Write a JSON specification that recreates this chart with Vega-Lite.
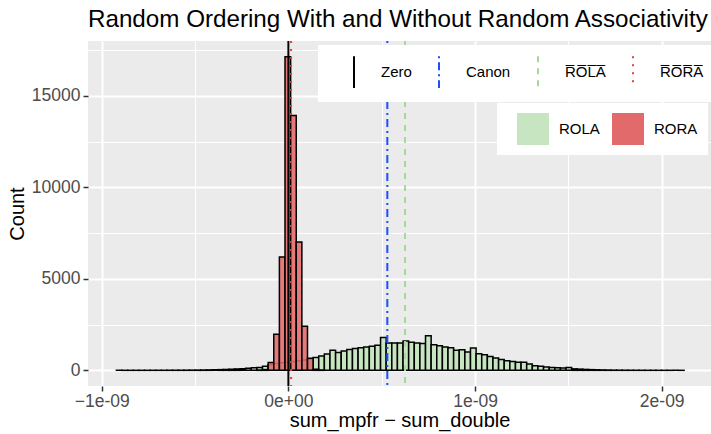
{
  "$schema": "https://vega.github.io/schema/vega-lite/v6.json",
  "autosize": "none",
  "width": 623,
  "height": 345,
  "padding": {"left": 88, "top": 41, "right": 0, "bottom": 48},
  "background": "white",
  "config": {
    "font": "Liberation Sans",
    "view": {"fill": "#EBEBEB", "stroke": null},
    "axis": {
      "domain": false,
      "labelFont": "Liberation Sans",
      "labelColor": "#4D4D4D",
      "labelFontSize": 17.5,
      "tickColor": "#333333",
      "tickSize": 5,
      "tickWidth": 1.5,
      "gridColor": "white",
      "titleFont": "Liberation Sans",
      "titleFontWeight": "normal",
      "titleFontSize": 20,
      "titleColor": "black"
    },
    "legend": {
      "labelFont": "Liberation Sans",
      "labelFontSize": 15,
      "labelColor": "black"
    }
  },
  "title": {
    "text": "Random Ordering With and Without Random Associativity",
    "anchor": "start",
    "frame": "group",
    "fontSize": 24.2,
    "fontWeight": "normal",
    "font": "Liberation Sans",
    "color": "black",
    "offset": 8
  },
  "datasets": {
    "bins": [
      {"g": "ROLA", "lo": -0.9214, "hi": -0.89129, "n": 1},
      {"g": "ROLA", "lo": -0.89129, "hi": -0.86118, "n": 1},
      {"g": "ROLA", "lo": -0.86118, "hi": -0.83107, "n": 1},
      {"g": "ROLA", "lo": -0.83107, "hi": -0.80096, "n": 1},
      {"g": "ROLA", "lo": -0.80096, "hi": -0.77085, "n": 2},
      {"g": "ROLA", "lo": -0.77085, "hi": -0.74074, "n": 2},
      {"g": "ROLA", "lo": -0.74074, "hi": -0.71063, "n": 3},
      {"g": "ROLA", "lo": -0.71063, "hi": -0.68052, "n": 3},
      {"g": "ROLA", "lo": -0.68052, "hi": -0.65041, "n": 4},
      {"g": "ROLA", "lo": -0.65041, "hi": -0.6203, "n": 5},
      {"g": "ROLA", "lo": -0.6203, "hi": -0.59019, "n": 6},
      {"g": "ROLA", "lo": -0.59019, "hi": -0.56008, "n": 7},
      {"g": "ROLA", "lo": -0.56008, "hi": -0.52997, "n": 9},
      {"g": "ROLA", "lo": -0.52997, "hi": -0.49986, "n": 11},
      {"g": "ROLA", "lo": -0.49986, "hi": -0.46975, "n": 14},
      {"g": "ROLA", "lo": -0.46975, "hi": -0.43964, "n": 18},
      {"g": "ROLA", "lo": -0.43964, "hi": -0.40953, "n": 24},
      {"g": "ROLA", "lo": -0.40953, "hi": -0.37942, "n": 30},
      {"g": "ROLA", "lo": -0.37942, "hi": -0.34931, "n": 38},
      {"g": "ROLA", "lo": -0.34931, "hi": -0.3192, "n": 48},
      {"g": "ROLA", "lo": -0.3192, "hi": -0.28909, "n": 60},
      {"g": "ROLA", "lo": -0.28909, "hi": -0.25898, "n": 75},
      {"g": "ROLA", "lo": -0.25898, "hi": -0.22887, "n": 92},
      {"g": "ROLA", "lo": -0.22887, "hi": -0.19876, "n": 112},
      {"g": "ROLA", "lo": -0.19876, "hi": -0.16865, "n": 135},
      {"g": "ROLA", "lo": -0.16865, "hi": -0.13854, "n": 160},
      {"g": "ROLA", "lo": -0.13854, "hi": -0.10843, "n": 220},
      {"g": "ROLA", "lo": -0.10843, "hi": -0.07832, "n": 300},
      {"g": "ROLA", "lo": -0.07832, "hi": -0.04821, "n": 370},
      {"g": "ROLA", "lo": -0.04821, "hi": -0.0181, "n": 420},
      {"g": "ROLA", "lo": -0.0181, "hi": 0.01201, "n": 450},
      {"g": "ROLA", "lo": 0.01201, "hi": 0.04212, "n": 480},
      {"g": "ROLA", "lo": 0.04212, "hi": 0.07223, "n": 520},
      {"g": "ROLA", "lo": 0.07223, "hi": 0.10234, "n": 560},
      {"g": "ROLA", "lo": 0.10234, "hi": 0.13245, "n": 620},
      {"g": "ROLA", "lo": 0.13245, "hi": 0.16256, "n": 700},
      {"g": "ROLA", "lo": 0.16256, "hi": 0.19267, "n": 790},
      {"g": "ROLA", "lo": 0.19267, "hi": 0.22278, "n": 890},
      {"g": "ROLA", "lo": 0.22278, "hi": 0.25289, "n": 1100},
      {"g": "ROLA", "lo": 0.25289, "hi": 0.283, "n": 980},
      {"g": "ROLA", "lo": 0.283, "hi": 0.31311, "n": 1060},
      {"g": "ROLA", "lo": 0.31311, "hi": 0.34322, "n": 1140},
      {"g": "ROLA", "lo": 0.34322, "hi": 0.37333, "n": 1190},
      {"g": "ROLA", "lo": 0.37333, "hi": 0.40344, "n": 1240},
      {"g": "ROLA", "lo": 0.40344, "hi": 0.43355, "n": 1280},
      {"g": "ROLA", "lo": 0.43355, "hi": 0.46366, "n": 1320},
      {"g": "ROLA", "lo": 0.46366, "hi": 0.49377, "n": 1370},
      {"g": "ROLA", "lo": 0.49377, "hi": 0.52388, "n": 1800},
      {"g": "ROLA", "lo": 0.52388, "hi": 0.55399, "n": 1500},
      {"g": "ROLA", "lo": 0.55399, "hi": 0.5841, "n": 1490},
      {"g": "ROLA", "lo": 0.5841, "hi": 0.61421, "n": 1500},
      {"g": "ROLA", "lo": 0.61421, "hi": 0.64432, "n": 1600},
      {"g": "ROLA", "lo": 0.64432, "hi": 0.67443, "n": 1540},
      {"g": "ROLA", "lo": 0.67443, "hi": 0.70454, "n": 1500},
      {"g": "ROLA", "lo": 0.70454, "hi": 0.73465, "n": 1460},
      {"g": "ROLA", "lo": 0.73465, "hi": 0.76476, "n": 1890},
      {"g": "ROLA", "lo": 0.76476, "hi": 0.79487, "n": 1400},
      {"g": "ROLA", "lo": 0.79487, "hi": 0.82498, "n": 1350},
      {"g": "ROLA", "lo": 0.82498, "hi": 0.85509, "n": 1280},
      {"g": "ROLA", "lo": 0.85509, "hi": 0.8852, "n": 1240},
      {"g": "ROLA", "lo": 0.8852, "hi": 0.91531, "n": 1100},
      {"g": "ROLA", "lo": 0.91531, "hi": 0.94542, "n": 1130},
      {"g": "ROLA", "lo": 0.94542, "hi": 0.97553, "n": 1000},
      {"g": "ROLA", "lo": 0.97553, "hi": 1.00564, "n": 1220},
      {"g": "ROLA", "lo": 1.00564, "hi": 1.03575, "n": 910},
      {"g": "ROLA", "lo": 1.03575, "hi": 1.06586, "n": 850},
      {"g": "ROLA", "lo": 1.06586, "hi": 1.09597, "n": 750},
      {"g": "ROLA", "lo": 1.09597, "hi": 1.12608, "n": 680},
      {"g": "ROLA", "lo": 1.12608, "hi": 1.15619, "n": 595},
      {"g": "ROLA", "lo": 1.15619, "hi": 1.1863, "n": 530},
      {"g": "ROLA", "lo": 1.1863, "hi": 1.21641, "n": 485},
      {"g": "ROLA", "lo": 1.21641, "hi": 1.24652, "n": 440},
      {"g": "ROLA", "lo": 1.24652, "hi": 1.27663, "n": 445},
      {"g": "ROLA", "lo": 1.27663, "hi": 1.30674, "n": 340},
      {"g": "ROLA", "lo": 1.30674, "hi": 1.33685, "n": 250},
      {"g": "ROLA", "lo": 1.33685, "hi": 1.36696, "n": 225},
      {"g": "ROLA", "lo": 1.36696, "hi": 1.39707, "n": 185},
      {"g": "ROLA", "lo": 1.39707, "hi": 1.42718, "n": 150},
      {"g": "ROLA", "lo": 1.42718, "hi": 1.45729, "n": 140},
      {"g": "ROLA", "lo": 1.45729, "hi": 1.4874, "n": 125},
      {"g": "ROLA", "lo": 1.4874, "hi": 1.51751, "n": 150},
      {"g": "ROLA", "lo": 1.51751, "hi": 1.54762, "n": 80},
      {"g": "ROLA", "lo": 1.54762, "hi": 1.57773, "n": 65},
      {"g": "ROLA", "lo": 1.57773, "hi": 1.60784, "n": 50},
      {"g": "ROLA", "lo": 1.60784, "hi": 1.63795, "n": 38},
      {"g": "ROLA", "lo": 1.63795, "hi": 1.66806, "n": 30},
      {"g": "ROLA", "lo": 1.66806, "hi": 1.69817, "n": 22},
      {"g": "ROLA", "lo": 1.69817, "hi": 1.72828, "n": 16},
      {"g": "ROLA", "lo": 1.72828, "hi": 1.75839, "n": 12},
      {"g": "ROLA", "lo": 1.75839, "hi": 1.7885, "n": 9},
      {"g": "ROLA", "lo": 1.7885, "hi": 1.81861, "n": 7},
      {"g": "ROLA", "lo": 1.81861, "hi": 1.84872, "n": 5},
      {"g": "ROLA", "lo": 1.84872, "hi": 1.87883, "n": 4},
      {"g": "ROLA", "lo": 1.87883, "hi": 1.90894, "n": 3},
      {"g": "ROLA", "lo": 1.90894, "hi": 1.93905, "n": 2},
      {"g": "ROLA", "lo": 1.93905, "hi": 1.96916, "n": 2},
      {"g": "ROLA", "lo": 1.96916, "hi": 1.99927, "n": 1},
      {"g": "ROLA", "lo": 1.99927, "hi": 2.02938, "n": 1},
      {"g": "ROLA", "lo": 2.02938, "hi": 2.05949, "n": 1},
      {"g": "ROLA", "lo": 2.05949, "hi": 2.0896, "n": 0},
      {"g": "ROLA", "lo": 2.0896, "hi": 2.11971, "n": 1},
      {"g": "RORA", "lo": -0.16865, "hi": -0.13854, "n": 3},
      {"g": "RORA", "lo": -0.13854, "hi": -0.10843, "n": 40},
      {"g": "RORA", "lo": -0.10843, "hi": -0.07832, "n": 430},
      {"g": "RORA", "lo": -0.07832, "hi": -0.04821, "n": 1970},
      {"g": "RORA", "lo": -0.04821, "hi": -0.0181, "n": 6200},
      {"g": "RORA", "lo": -0.0181, "hi": 0.01201, "n": 17150},
      {"g": "RORA", "lo": 0.01201, "hi": 0.04212, "n": 13940},
      {"g": "RORA", "lo": 0.04212, "hi": 0.07223, "n": 7020},
      {"g": "RORA", "lo": 0.07223, "hi": 0.10234, "n": 2410},
      {"g": "RORA", "lo": 0.10234, "hi": 0.13245, "n": 660},
      {"g": "RORA", "lo": 0.13245, "hi": 0.16256, "n": 60},
      {"g": "RORA", "lo": 0.16256, "hi": 0.19267, "n": 5}
    ],
    "lines": [
      {"line": "Zero", "v": 0},
      {"line": "Canon", "v": 0.53},
      {"line": "ROLA_mean", "v": 0.625},
      {"line": "RORA_mean", "v": 0.0145}
    ]
  },
  "layer": [
    {
      "data": {"name": "bins"},
      "transform": [{"filter": "datum.g == 'ROLA'"}],
      "mark": {"type": "bar", "stroke": "black", "strokeWidth": 1.5},
      "encoding": {
        "x": {
          "field": "lo", "type": "quantitative",
          "scale": {"domain": [-1.0735, 2.264], "nice": false, "zero": false},
          "axis": {
            "title": "sum_mpfr \u2212 sum_double",
            "titlePadding": 1,
            "values": [-1, -0.5, 0, 0.5, 1, 1.5, 2],
            "labelExpr": "datum.value == -1 ? '\u22121e-09' : datum.value == 0 ? '0e+00' : datum.value == 1 ? '1e-09' : datum.value == 2 ? '2e-09' : ''",
            "gridWidth": {"condition": {"test": "datum.value % 1 === 0", "value": 2}, "value": 1},
            "tickOpacity": {"condition": {"test": "datum.value % 1 === 0", "value": 1}, "value": 0},
            "labelPadding": 1
          }
        },
        "x2": {"field": "hi"},
        "y": {
          "field": "n", "type": "quantitative",
          "scale": {"domain": [-857, 18007], "nice": false, "zero": false},
          "axis": {
            "title": "Count",
            "titlePadding": 4,
            "format": "d",
            "values": [0, 2500, 5000, 7500, 10000, 12500, 15000, 17500],
            "labelExpr": "datum.value % 5000 === 0 ? datum.label : ''",
            "gridWidth": {"condition": {"test": "datum.value % 5000 === 0", "value": 2}, "value": 1},
            "tickOpacity": {"condition": {"test": "datum.value % 5000 === 0", "value": 1}, "value": 0},
            "labelPadding": 3
          }
        },
        "y2": {"datum": 0},
        "fill": {
          "field": "g", "type": "nominal",
          "scale": {"domain": ["ROLA", "RORA"], "range": ["#C6E5C0", "#E36A6A"]},
          "legend": {
            "title": " ", "orient": "none", "legendX": 409, "legendY": 62,
            "direction": "horizontal", "fillColor": "white", "padding": 10,
            "titleOrient": "left", "titlePadding": 10,
            "symbolType": "square", "symbolSize": 1024, "symbolStrokeWidth": 0,
            "labelFontSize": 15, "labelColor": "black",
            "labelOffset": 10, "columnPadding": 12
          }
        }
      }
    },
    {
      "data": {"name": "bins"},
      "transform": [{"filter": "datum.g == 'RORA'"}],
      "mark": {"type": "bar", "stroke": "black", "strokeWidth": 1.5, "fillOpacity": 0.88},
      "encoding": {
        "x": {"field": "lo", "type": "quantitative"},
        "x2": {"field": "hi"},
        "y": {"field": "n", "type": "quantitative"},
        "y2": {"datum": 0},
        "fill": {"field": "g", "type": "nominal"}
      }
    },
    {
      "data": {"name": "lines"},
      "mark": {"type": "rule", "strokeWidth": 2},
      "encoding": {
        "x": {"field": "v", "type": "quantitative"},
        "stroke": {
          "field": "line", "type": "nominal",
          "scale": {"domain": ["Zero", "Canon", "ROLA_mean", "RORA_mean"], "range": ["black", "#1F4EFF", "#A6D89C", "#E0403F"]},
          "legend": {
            "title": " ", "orient": "none", "legendX": 230, "legendY": 4,
            "direction": "horizontal", "fillColor": "white", "padding": 10,
            "titleOrient": "left", "titlePadding": 9,
            "symbolType": "M0,-1L0,1", "symbolSize": 1000, "symbolStrokeWidth": 2,
            "labelFontSize": 15, "labelColor": "black",
            "labelOffset": 10, "columnPadding": 10,
            "labelExpr": "datum.label == 'ROLA_mean' ? 'R\u0305O\u0305L\u0305A\u0305' : datum.label == 'RORA_mean' ? 'R\u0305O\u0305R\u0305A\u0305' : datum.label"
          }
        },
        "strokeDash": {
          "field": "line", "type": "nominal",
          "scale": {"domain": ["Zero", "Canon", "ROLA_mean", "RORA_mean"], "range": [[1, 0], [2, 4, 8, 4], [6, 6], [2, 6]]},
          "legend": {
            "title": " ", "orient": "none", "legendX": 230, "legendY": 4,
            "direction": "horizontal", "fillColor": "white", "padding": 10,
            "titleOrient": "left", "titlePadding": 9,
            "symbolType": "M0,-1L0,1", "symbolSize": 1000, "symbolStrokeWidth": 2,
            "labelFontSize": 15, "labelColor": "black",
            "labelOffset": 10, "columnPadding": 10,
            "labelExpr": "datum.label == 'ROLA_mean' ? 'R\u0305O\u0305L\u0305A\u0305' : datum.label == 'RORA_mean' ? 'R\u0305O\u0305R\u0305A\u0305' : datum.label"
          }
        }
      }
    }
  ]
}
